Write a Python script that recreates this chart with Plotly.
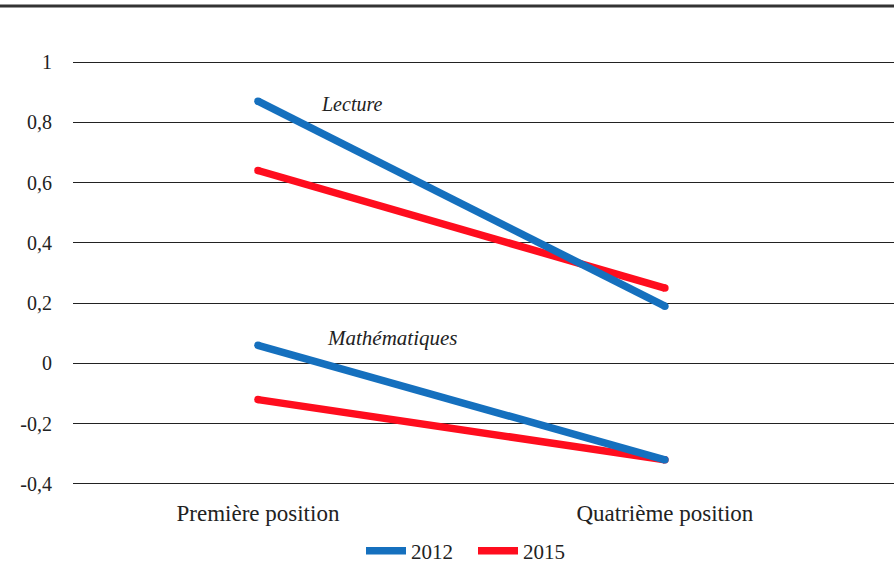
import plotly.graph_objects as go

categories = ["Première position", "Quatrième position"]
x_pos = [0, 1]
lecture_2012 = [0.87, 0.19]
lecture_2015 = [0.64, 0.25]
maths_2012 = [0.06, -0.32]
maths_2015 = [-0.12, -0.32]
y_ticks = [-0.4, -0.2, 0, 0.2, 0.4, 0.6, 0.8, 1]
y_tick_labels = ["-0,4", "-0,2", "0", "0,2", "0,4", "0,6", "0,8", "1"]

BLUE = "#1570BE"
RED = "#FF0D1E"
FONT = "Liberation Serif, DejaVu Serif, Times New Roman, serif"
LW = 7.5

fig = go.Figure()

series = [
    ("2015", RED, lecture_2015, True, 2),
    ("2015", RED, maths_2015, False, 2),
    ("2012", BLUE, lecture_2012, True, 1),
    ("2012", BLUE, maths_2012, False, 1),
]
for name, color, vals, show, rank in series:
    fig.add_trace(go.Scatter(
        x=x_pos, y=vals, mode="lines", name=name, legendgroup=name,
        showlegend=show, legendrank=rank,
        line=dict(color=color, width=LW),
    ))
    fig.add_trace(go.Scatter(
        x=x_pos, y=vals, mode="markers", legendgroup=name, showlegend=False,
        marker=dict(color=color, size=LW, line=dict(width=0)), hoverinfo="skip",
    ))

fig.add_annotation(x=0.23, y=0.86, text="<i>Lecture</i>", showarrow=False,
                   font=dict(family=FONT, size=20, color="#222"))
fig.add_annotation(x=0.33, y=0.085, text="<i>Mathématiques</i>", showarrow=False,
                   font=dict(family=FONT, size=21, color="#222"))

# top thick rule
fig.add_shape(type="line", xref="paper", yref="paper",
              x0=-73 / 821, x1=1, y0=1 + 53 / 428, y1=1 + 53 / 428,
              line=dict(color="#333333", width=3))

fig.update_layout(
    width=894, height=585,
    margin=dict(l=73, r=0, t=59, b=98),
    paper_bgcolor="white", plot_bgcolor="white",
    font=dict(family=FONT, size=20, color="#222"),
    showlegend=True,
    legend=dict(orientation="h", x=(361 - 73) / 821, xanchor="left",
                y=-0.102, yanchor="top", font=dict(family=FONT, size=21),
                traceorder="normal", entrywidth=57, itemwidth=40),
    xaxis=dict(range=[-0.4545, 1.563], tickvals=x_pos, ticktext=categories,
               showgrid=False, zeroline=False, showline=False, ticks="",
               tickfont=dict(family=FONT, size=23), ticklabelstandoff=10),
    yaxis=dict(range=[-0.41, 1.01], tickvals=y_ticks, ticktext=y_tick_labels,
               showgrid=True, gridcolor="#222", gridwidth=1, zeroline=False,
               showline=False, ticks="", tickfont=dict(family=FONT, size=20),
               ticklabelstandoff=20),
)

fig.write_html("out.html", config={"displayModeBar": False},
               post_script="document.body.style.margin='0';document.body.style.overflow='hidden';")
